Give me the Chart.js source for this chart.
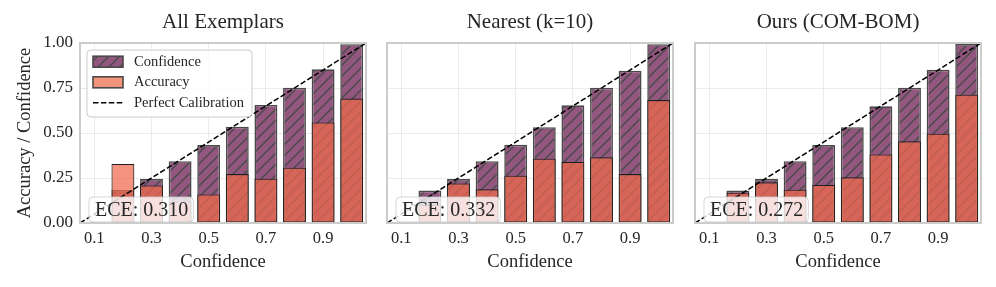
<!DOCTYPE html>
<html><head><meta charset="utf-8">
<script src="https://cdn.jsdelivr.net/npm/chart.js@4.4.0/dist/chart.umd.min.js"></script>
<style>
html,body{margin:0;padding:0;background:#fff;}
#wrap{position:relative;width:996px;height:287px;background:#fff;}
canvas{position:absolute;left:0;top:0;}
</style></head><body>
<div id="wrap">
<canvas id="c1" width="996" height="287"></canvas>
<canvas id="c2" width="996" height="287"></canvas>
<canvas id="c3" width="996" height="287"></canvas>
</div>
<script>
// ---- data ----
const binCenters = [0.2, 0.3, 0.4, 0.5, 0.6, 0.7, 0.8, 0.9, 1.0];
const xTicks = [0.1, 0.3, 0.5, 0.7, 0.9];
const yTicks = [0.0, 0.25, 0.5, 0.75, 1.0];
const panelTitles = ['All Exemplars', 'Nearest (k=10)', 'Ours (COM-BOM)'];
const confAll     = [0.183, 0.244, 0.343, 0.433, 0.535, 0.656, 0.752, 0.854, 0.993];
const accAll      = [0.328, 0.209, 0.120, 0.159, 0.272, 0.246, 0.307, 0.559, 0.691];
const confNearest = [0.180, 0.244, 0.343, 0.435, 0.532, 0.654, 0.752, 0.846, 0.993];
const accNearest  = [0.100, 0.220, 0.187, 0.263, 0.357, 0.339, 0.365, 0.272, 0.683];
const confOurs    = [0.180, 0.244, 0.343, 0.433, 0.532, 0.648, 0.752, 0.852, 0.994];
const accOurs     = [0.168, 0.226, 0.185, 0.211, 0.254, 0.381, 0.454, 0.496, 0.713];
const eceValues   = ['0.310', '0.332', '0.272'];
const calibX = [0.05, 1.05];
const calibY = [0.0, 1.0];
const legendLabels = ['Confidence', 'Accuracy', 'Perfect Calibration'];

// ---- style ----
const FONT = "'Liberation Serif', 'DejaVu Serif', serif";
const TXT = '#262626';
const PURPLE = '#93577f';
const HATCH_COL = '#4a4a4a';
const ACC_COL = 'rgba(240,105,75,0.72)';
Chart.defaults.font.family = FONT;
Chart.defaults.color = TXT;

function makeHatch() {
  const s = 11, c = document.createElement('canvas');
  c.width = s; c.height = s;
  const g = c.getContext('2d');
  g.fillStyle = PURPLE; g.fillRect(0, 0, s, s);
  g.strokeStyle = HATCH_COL; g.lineWidth = 1.5;
  g.beginPath();
  g.moveTo(-1, s + 1); g.lineTo(s + 1, -1);
  g.moveTo(-s / 2 - 1, s / 2 + 1); g.lineTo(s / 2 + 1, -s / 2 - 1);
  g.moveTo(s / 2 - 1, s * 1.5 + 1); g.lineTo(s * 1.5 + 1, s / 2 - 1);
  g.stroke();
  return g.createPattern(c, 'repeat');
}
const hatch = makeHatch();

function roundRect(ctx, x, y, w, h, r) {
  ctx.beginPath();
  ctx.moveTo(x + r, y);
  ctx.lineTo(x + w - r, y); ctx.quadraticCurveTo(x + w, y, x + w, y + r);
  ctx.lineTo(x + w, y + h - r); ctx.quadraticCurveTo(x + w, y + h, x + w - r, y + h);
  ctx.lineTo(x + r, y + h); ctx.quadraticCurveTo(x, y + h, x, y + h - r);
  ctx.lineTo(x, y + r); ctx.quadraticCurveTo(x, y, x + r, y);
  ctx.closePath();
}

const panels = [
  {id: 'c1', conf: confAll, acc: accAll, padL: 0, padR: 630, yW: 80, showY: true, legend: true},
  {id: 'c2', conf: confNearest, acc: accNearest, padL: 377, padR: 323, yW: 10, showY: false, legend: false},
  {id: 'c3', conf: confOurs, acc: accOurs, padL: 685, padR: 15, yW: 10, showY: false, legend: false},
];

panels.forEach((p, idx) => {
  const decor = {
    id: 'decor' + idx,
    afterDatasetsDraw(chart) {
      const ctx = chart.ctx, a = chart.chartArea;
      ctx.save();
      ctx.font = '20px ' + FONT;
      const txt = 'ECE: ' + eceValues[idx];
      const tw = ctx.measureText(txt).width;
      const tx = a.left + 15;
      const bx = tx - 6, by = a.bottom - 26, bw = tw + 11, bh = 25;
      roundRect(ctx, bx, by, bw, bh, 4);
      ctx.fillStyle = 'rgba(255,255,255,0.8)'; ctx.fill();
      ctx.strokeStyle = 'rgba(204,204,204,0.8)'; ctx.lineWidth = 1; ctx.stroke();
      ctx.fillStyle = TXT; ctx.textBaseline = 'middle'; ctx.textAlign = 'left';
      ctx.fillText(txt, tx, by + bh / 2 + 1);
      ctx.restore();
    },
    afterDraw(chart) {
      const ctx = chart.ctx, a = chart.chartArea;
      ctx.save();
      if (p.legend) {
        const L = a.left + 7, T = a.top + 7, W = 165, H = 67;
        roundRect(ctx, L, T, W, H, 4);
        ctx.fillStyle = 'rgba(255,255,255,0.8)'; ctx.fill();
        ctx.strokeStyle = '#cccccc'; ctx.lineWidth = 1; ctx.stroke();
        const sx = L + 6, sw = 30, sh = 11;
        const rows = [T + 11.7, T + 32.3, T + 52.7];
        ctx.fillStyle = hatch; ctx.fillRect(sx, rows[0] - sh / 2, sw, sh);
        ctx.strokeStyle = HATCH_COL; ctx.lineWidth = 1.6; ctx.strokeRect(sx, rows[0] - sh / 2, sw, sh);
        ctx.fillStyle = ACC_COL; ctx.fillRect(sx, rows[1] - sh / 2, sw, sh);
        ctx.strokeStyle = HATCH_COL; ctx.lineWidth = 1.6; ctx.strokeRect(sx, rows[1] - sh / 2, sw, sh);
        ctx.beginPath(); ctx.setLineDash([5.5, 2.4]); ctx.strokeStyle = '#000'; ctx.lineWidth = 1.5;
        ctx.moveTo(sx, rows[2]); ctx.lineTo(sx + sw, rows[2]); ctx.stroke(); ctx.setLineDash([]);
        ctx.font = '14.5px ' + FONT; ctx.fillStyle = TXT; ctx.textBaseline = 'middle'; ctx.textAlign = 'left';
        legendLabels.forEach((t, i) => ctx.fillText(t, L + 47, rows[i]));
      }
      ctx.strokeStyle = '#cccccc'; ctx.lineWidth = 2;
      ctx.strokeRect(a.left, a.top, a.right - a.left, a.bottom - a.top);
      ctx.restore();
    }
  };

  new Chart(document.getElementById(p.id), {
    type: 'bar',
    data: {
      datasets: [
        {type: 'line', label: legendLabels[2], data: calibX.map((x, i) => ({x, y: calibY[i]})),
         borderColor: '#000', borderWidth: 1.5, borderDash: [5.5, 2.4], pointRadius: 0, fill: false, order: 0},
        {label: legendLabels[1], data: binCenters.map((x, i) => ({x, y: p.acc[i]})),
         backgroundColor: ACC_COL, borderColor: '#1e1e1e', borderWidth: 1.1, borderSkipped: false,
         grouped: false, order: 1, barPercentage: 1, categoryPercentage: 0.8},
        {label: legendLabels[0], data: binCenters.map((x, i) => ({x, y: p.conf[i]})),
         backgroundColor: hatch, borderColor: HATCH_COL, borderWidth: 1.6, borderSkipped: false,
         grouped: false, order: 2, barPercentage: 1, categoryPercentage: 0.8},
      ]
    },
    options: {
      responsive: false, animation: false,
      layout: {padding: {left: p.padL, right: p.padR, top: 0, bottom: 0}},
      plugins: {
        legend: {display: false}, tooltip: {enabled: false},
        title: {display: true, text: panelTitles[idx], fullSize: false, color: TXT,
                font: {size: 21, weight: 'normal', lineHeight: 1.2}, padding: {top: 10, bottom: 7.8}}
      },
      scales: {
        x: {
          type: 'linear', min: 0.05, max: 1.05, offset: false,
          afterBuildTicks: s => { s.ticks = xTicks.map(v => ({value: v})); },
          afterFit: s => { s.height = 64; },
          ticks: {callback: v => Number(v).toFixed(1), font: {size: 16.5}, color: TXT, padding: 6, maxRotation: 0, autoSkip: false},
          grid: {color: '#ebebeb', lineWidth: 1, drawTicks: false, offset: false},
          border: {display: false},
          title: {display: true, text: 'Confidence', color: TXT, font: {size: 18.5, lineHeight: 1.2}, padding: {top: 0, bottom: 14}}
        },
        y: {
          min: 0, max: 1,
          afterBuildTicks: s => { s.ticks = yTicks.map(v => ({value: v})); },
          afterFit: s => { s.width = p.yW; },
          ticks: {display: p.showY, callback: v => Number(v).toFixed(2), font: {size: 17}, color: TXT, padding: 7},
          grid: {color: '#ebebeb', lineWidth: 1, drawTicks: false},
          border: {display: false},
          title: {display: p.showY, text: 'Accuracy / Confidence', color: TXT, font: {size: 18.5, lineHeight: 1.2}, padding: {top: 14, bottom: 0}}
        }
      }
    },
    plugins: [decor]
  });
});
</script>
</body></html>
